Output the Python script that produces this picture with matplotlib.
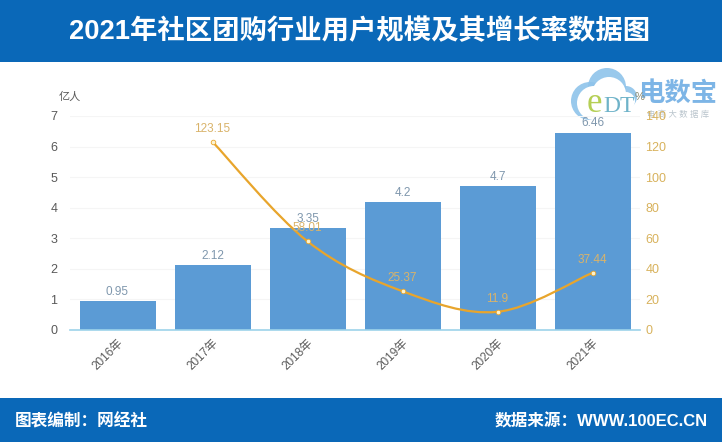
import matplotlib
matplotlib.use('Agg')
import matplotlib.pyplot as plt
from matplotlib.patches import Rectangle, PathPatch, Circle
from matplotlib.path import Path

plt.rcParams['font.family'] = ['Liberation Sans', 'Noto Sans CJK SC', 'DejaVu Sans']

years = ['2016年', '2017年', '2018年', '2019年', '2020年', '2021年']
users = [0.95, 2.12, 3.35, 4.2, 4.7, 6.46]
growth_years = [1, 2, 3, 4, 5]
growth = [123.15, 58.01, 25.37, 11.9, 37.44]
growth_labels = ['123.15', '58.01', '25.37', '11.9', '37.44']
left_ticks = [0, 1, 2, 3, 4, 5, 6, 7]
right_ticks = [0, 20, 40, 60, 80, 100, 120, 140]

W, H = 722, 442
BLUE = '#0a68b8'
BAR = '#5b9bd5'
ORANGE = '#e8a52c'
LABEL = '#d9b36a'
GREY = '#595959'


def smooth_path(xs, ys, t=0.17):
    # catmull-rom style bezier through the points
    verts = [(xs[0], ys[0])]
    codes = [Path.MOVETO]
    n = len(xs)
    for i in range(n - 1):
        p0 = max(i - 1, 0)
        p3 = min(i + 2, n - 1)
        verts.append((xs[i] + (xs[i + 1] - xs[p0]) * t, ys[i] + (ys[i + 1] - ys[p0]) * t))
        verts.append((xs[i + 1] - (xs[p3] - xs[i]) * t, ys[i + 1] - (ys[p3] - ys[i]) * t))
        verts.append((xs[i + 1], ys[i + 1]))
        codes += [Path.CURVE4] * 3
    return Path(verts, codes)


fig = plt.figure(figsize=(W / 100, H / 100), dpi=100, facecolor='white')

# header and footer bands, pixel coordinates
bg = fig.add_axes([0, 0, 1, 1], zorder=0)
bg.set_xlim(0, W)
bg.set_ylim(H, 0)
bg.axis('off')
bg.add_patch(Rectangle((0, 0), W, 62, color=BLUE, lw=0))
bg.add_patch(Rectangle((0, 398), W, 44, color=BLUE, lw=0))
bg.text(360, 32, '2021年社区团购行业用户规模及其增长率数据图', color='white', fontsize=19.7,
        fontweight='bold', ha='center', va='center')
bg.text(15, 421, '图表编制：网经社', color='white', fontsize=12, fontweight='bold', va='center')
bg.text(708, 421, '数据来源：WWW.100EC.CN', color='white', fontsize=12, fontweight='bold',
        va='center', ha='right')
bg.text(59, 97, '亿人', fontsize=8, color=GREY, va='center')

# logo sits under the chart so the labels stay readable
for cx, cy, r in [(590, 101, 19), (607, 87, 19), (626, 97, 11)]:
    bg.add_patch(Circle((cx, cy), r, fc='#8ec3ea', ec='none', alpha=0.9))
for cx, cy, r in [(594, 103, 17), (609, 94, 17), (626, 101, 9)]:
    bg.add_patch(Circle((cx, cy), r, fc='white', ec='none'))
bg.add_patch(Rectangle((592, 104), 40, 14, fc='white', ec='none'))
bg.text(594, 104, 'e', color='#b5cf55', fontsize=25, ha='center', va='center', family='Liberation Serif')
bg.text(619, 106, 'DT', color='#6fb3c9', fontsize=17, ha='center', va='center', family='Liberation Serif')
bg.text(678, 94, '电数宝', color='#7db5e6', fontsize=19, fontweight='bold', ha='center', va='center')
bg.text(678, 115, '电 商 大 数 据 库', color='#b9c4cc', fontsize=6, ha='center', va='center')
bg.text(640, 97, '%', fontsize=8, color='#8a8a70', va='center', ha='center')

# main plot
ax = fig.add_axes([70 / W, 1 - 330 / H, 570 / W, 214 / H], zorder=2)
ax.patch.set_visible(False)
ax.bar(range(6), users, width=0.8, color=BAR, zorder=2)
ax.set_xlim(-0.5, 5.5)
ax.set_ylim(0, 7)
ax.set_yticks(left_ticks)
ax.set_xticks(range(6))
ax.set_xticklabels(years, rotation=45, ha='right', rotation_mode='anchor', fontsize=8.5, color=GREY)
ax.tick_params(axis='y', length=0, labelsize=9, labelcolor=GREY, pad=9)
ax.tick_params(axis='x', length=0, pad=5)
ax.grid(axis='y', color='#f5f5f5', lw=0.8, zorder=0)
for s in ['top', 'left', 'right']:
    ax.spines[s].set_visible(False)
ax.spines['bottom'].set_color('#9dd3ea')
ax.spines['bottom'].set_linewidth(1.2)
for i, v in enumerate(users):
    ax.text(i, v + 0.1, str(v), ha='center', va='bottom', fontsize=8.5, color='#7f97ad', zorder=6)

ax2 = ax.twinx()
ax2.set_zorder(3)
ax2.patch.set_visible(False)
ax2.set_ylim(0, 140)
ax2.set_yticks(right_ticks)
ax2.tick_params(axis='y', length=0, labelsize=9, labelcolor='#d8b25c', pad=4)
for s in ax2.spines.values():
    s.set_visible(False)
ax2.add_patch(PathPatch(smooth_path(growth_years, growth), fc='none', ec=ORANGE, lw=1.6, zorder=4))
ax2.scatter(growth_years, growth, s=11, color='#fdf3cf', edgecolors=ORANGE, linewidths=0.6, zorder=5)
for x, v, t in zip(growth_years, growth, growth_labels):
    ax2.text(x, v + 4.5, t, ha='center', va='bottom', fontsize=8.5, color=LABEL, zorder=6)

fig.savefig('out.png', dpi=100, facecolor='white')
